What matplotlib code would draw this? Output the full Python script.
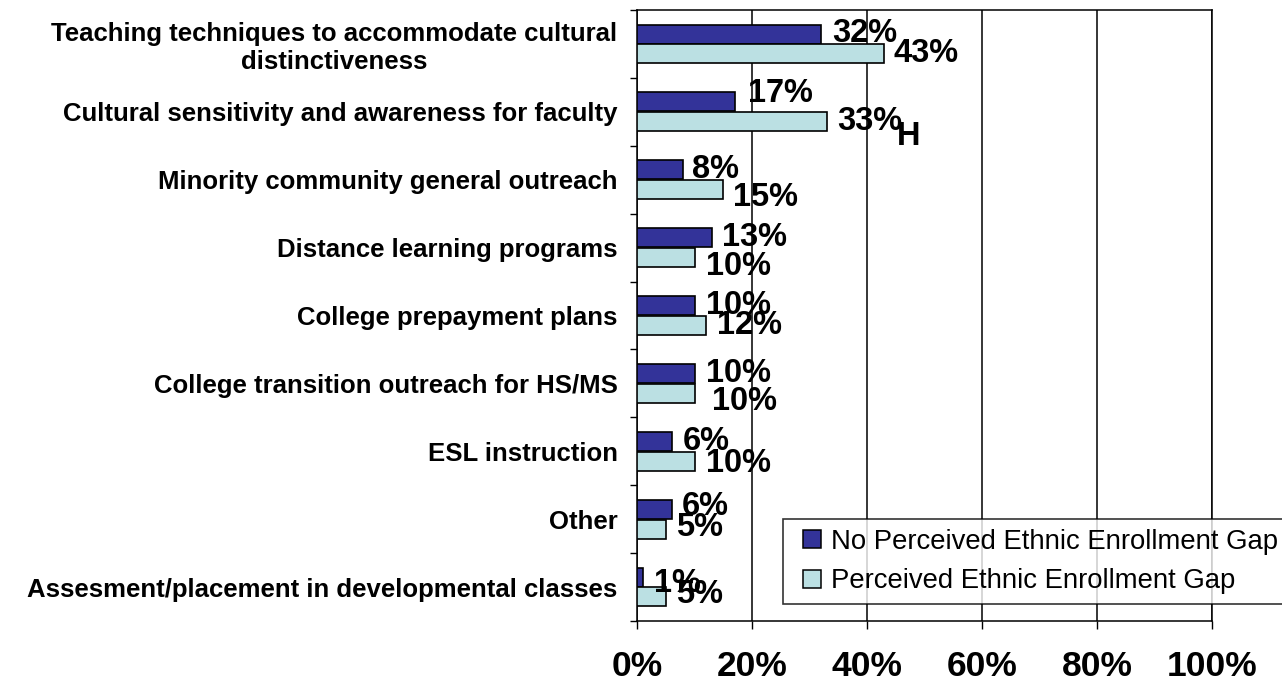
import numpy as np
import matplotlib.pyplot as plt
from matplotlib.lines import Line2D
from matplotlib.ticker import FixedLocator, PercentFormatter

plt.rcParams['font.family'] = ['Liberation Sans', 'DejaVu Sans']

categories = ['Teaching techniques to accommodate cultural\ndistinctiveness',
              'Cultural sensitivity and awareness for faculty',
              'Minority community general outreach',
              'Distance learning programs',
              'College prepayment plans',
              'College transition outreach for HS/MS',
              'ESL instruction',
              'Other',
              'Assesment/placement in developmental classes']
no_gap = [0.32, 0.17, 0.08, 0.13, 0.10, 0.10, 0.06, 0.06, 0.01]
gap = [0.43, 0.33, 0.15, 0.10, 0.12, 0.10, 0.10, 0.05, 0.05]
series_names = ['No Perceived Ethnic Enrollment Gap', 'Perceived Ethnic Enrollment Gap']
colors = ['#333399', '#BBE0E3']

# label nudges in pixels (dx, dy; dy positive = down), as the original sits
no_gap_nudge = [(11, -1), (13, -8), (9, 0), (10, 0), (11, 0), (11, 0), (11, 0), (10, -3), (11, 6)]
gap_nudge = [(9, 0), (10, 0), (10, 8), (11, 9), (11, 0), (18, 8), (11, 2), (10, -2), (10, -2)]

fig = plt.figure(figsize=(12.82, 6.83), dpi=100)
ax = fig.add_axes([637 / 1282, 1 - 621 / 683, 575 / 1282, 611 / 683])

y = np.arange(len(categories))
h = 0.28
ax.barh(y - 0.145, no_gap, height=h, color=colors[0], edgecolor='black', linewidth=1.2, zorder=3)
ax.barh(y + 0.145, gap, height=h, color=colors[1], edgecolor='black', linewidth=1.2, zorder=3)

px = 72 / 100
for vals, nudges, off in [(no_gap, no_gap_nudge, -0.145), (gap, gap_nudge, 0.145)]:
    for i, (v, (dx, dy)) in enumerate(zip(vals, nudges)):
        ax.annotate('%d%%' % round(v * 100), (v, i + off), xytext=(dx * px, -dy * px),
                    textcoords='offset points', ha='left', va='center',
                    fontsize=23.5, fontweight='bold', zorder=4)
# stray glyph left over in the original
ax.text(0.452, 1.36, 'H', fontsize=23.5, fontweight='bold', ha='left', va='center', zorder=4)

ax.set_xlim(0, 1)
ax.set_ylim(len(categories) - 0.5, -0.5)
ax.set_xticks(np.arange(0, 1.01, 0.2))
ax.xaxis.set_major_formatter(PercentFormatter(1.0, decimals=0))
ax.tick_params(axis='x', direction='out', length=6, width=1, pad=15,
               labelsize=25.5)
for t in ax.get_xticklabels():
    t.set_fontweight('bold')

ax.yaxis.set_major_locator(FixedLocator(np.arange(-0.5, len(categories), 1)))
ax.yaxis.set_minor_locator(FixedLocator(y))
ax.set_yticklabels([], minor=False)
ax.set_yticklabels(categories, minor=True, fontsize=18.5, fontweight='bold',
                   ha='right', multialignment='center', linespacing=1.2)
ax.tick_params(axis='y', which='major', direction='out', length=5, width=1)
ax.tick_params(axis='y', which='minor', length=0, pad=14)

ax.grid(axis='x', color='black', linewidth=1.1, zorder=0)
for s in ax.spines.values():
    s.set_color('black')
    s.set_linewidth(1.1)

handles = [Line2D([], [], ls='none', marker='s', markersize=13, markerfacecolor=c,
                  markeredgecolor='black', markeredgewidth=1.1) for c in colors]
leg = ax.legend(handles, series_names, loc='upper left',
                bbox_to_anchor=(783 / 1282, 1 - 519 / 683),
                bbox_transform=fig.transFigure, borderaxespad=0, fancybox=False,
                prop={'size': 19.8}, handlelength=1.38, handletextpad=0.0,
                borderpad=0.35, labelspacing=0.5)
leg.get_frame().set_edgecolor('black')
leg.get_frame().set_linewidth(1.2)

plt.savefig('out.png', dpi=100)
